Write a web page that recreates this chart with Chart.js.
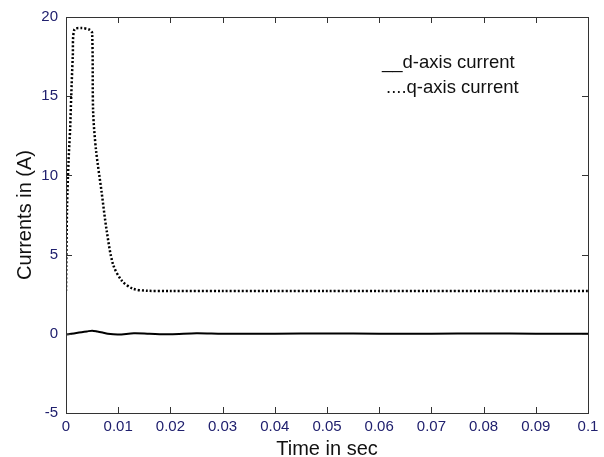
<!DOCTYPE html>
<html>
<head>
<meta charset="utf-8">
<script src="https://cdn.jsdelivr.net/npm/chart.js@4"></script>
<style>
  body { margin: 0; background: #fff; }
  #wrap { width: 604px; height: 457px; }
</style>
</head>
<body>
<div id="wrap"><canvas id="myChart"></canvas></div>
<script>
// time (s) and currents (A)
const qTime = [0, 0.0002, 0.0005, 0.0008, 0.001, 0.0013, 0.0016, 0.003, 0.0045, 0.005, 0.0052, 0.00575, 0.0068, 0.0078, 0.009, 0.0107, 0.0128, 0.0155, 0.02, 0.03, 0.04, 0.05, 0.06, 0.07, 0.08, 0.09, 0.1];
const qCurrent = [2.7, 8, 11, 13, 15, 17.5, 19.2, 19.3, 19.2, 19.0, 14.0, 11.6, 9.0, 6.5, 4.4, 3.35, 2.85, 2.72, 2.7, 2.7, 2.7, 2.7, 2.7, 2.7, 2.7, 2.7, 2.7];
const dTime = [0, 0.001, 0.002, 0.003, 0.004, 0.005, 0.006, 0.007, 0.008, 0.01, 0.013, 0.016, 0.02, 0.025, 0.03, 0.04, 0.05, 0.06, 0.07, 0.08, 0.09, 0.1];
const dCurrent = [-0.05, 0.0, 0.05, 0.1, 0.15, 0.2, 0.15, 0.08, 0.0, -0.05, 0.03, 0.0, -0.03, 0.03, 0.0, 0.0, 0.02, 0.0, 0.0, 0.02, 0.0, 0.0];
const legendText = ['__d-axis current', '....q-axis current'];

const toPoints = (xs, ys) => xs.map((x, i) => ({x: x, y: ys[i]}));

const tickColor = '#20206e';
const fontFamily = '"Liberation Sans", Arial, sans-serif';

// box round the plot and ticks pointing inwards on all four sides
const frame = {
  id: 'frame',
  afterDraw(chart) {
    const {ctx, chartArea: a, scales} = chart;
    ctx.save();
    ctx.strokeStyle = '#333';
    ctx.lineWidth = 1;
    ctx.strokeRect(a.left + 0.5, a.top + 0.5, a.right - a.left, a.bottom - a.top);
    ctx.beginPath();
    scales.x.ticks.forEach(t => {
      const px = Math.round(scales.x.getPixelForValue(t.value)) + 0.5;
      ctx.moveTo(px, a.bottom); ctx.lineTo(px, a.bottom - 6);
      ctx.moveTo(px, a.top); ctx.lineTo(px, a.top + 6);
    });
    scales.y.ticks.forEach(t => {
      const py = Math.round(scales.y.getPixelForValue(t.value)) + 0.5;
      ctx.moveTo(a.left, py); ctx.lineTo(a.left + 6, py);
      ctx.moveTo(a.right, py); ctx.lineTo(a.right - 6, py);
    });
    ctx.stroke();
    ctx.fillStyle = '#111';
    ctx.font = '18.5px ' + fontFamily;
    ctx.textBaseline = 'middle';
    ctx.fillText(legendText[0], 382, 63);
    ctx.fillText(legendText[1], 386, 88);
    ctx.restore();
  }
};

new Chart(document.getElementById('myChart'), {
  type: 'scatter',
  data: {
    datasets: [{
      label: 'd-axis current',
      data: toPoints(dTime, dCurrent),
      showLine: true,
      borderColor: '#000',
      borderWidth: 2,
      pointRadius: 0,
      tension: 0.3
    }, {
      label: 'q-axis current',
      data: toPoints(qTime, qCurrent),
      showLine: true,
      borderColor: '#000',
      borderWidth: 2.5,
      borderDash: [2, 2],
      pointRadius: 0,
      tension: 0.3
    }]
  },
  options: {
    responsive: true,
    maintainAspectRatio: false,
    animation: false,
    layout: { padding: { left: 0, right: 16, top: 15, bottom: 0 } },
    plugins: { legend: { display: false }, tooltip: { enabled: false } },
    scales: {
      x: {
        type: 'linear',
        min: 0, max: 0.1,
        grid: { display: false, drawTicks: false },
        border: { display: false },
        ticks: {
          stepSize: 0.01,
          padding: 5,
          color: tickColor,
          font: { family: fontFamily, size: 15 },
          maxRotation: 0,
          callback: v => Number(v.toFixed(2)).toString()
        },
        title: {
          display: true,
          text: 'Time in sec',
          color: '#111',
          padding: { top: 0, bottom: -4 },
          font: { family: fontFamily, size: 20 }
        },
        afterFit: s => { s.height = 44; }
      },
      y: {
        min: -5, max: 20,
        grid: { display: false, drawTicks: false },
        border: { display: false },
        ticks: {
          stepSize: 5,
          padding: 8,
          color: tickColor,
          font: { family: fontFamily, size: 15 }
        },
        title: {
          display: true,
          text: 'Currents in (A)',
          color: '#111',
          padding: { top: 13, bottom: 0 },
          font: { family: fontFamily, size: 20 }
        },
        afterFit: s => { s.width = 66; }
      }
    }
  },
  plugins: [frame]
});
</script>
</body>
</html>
